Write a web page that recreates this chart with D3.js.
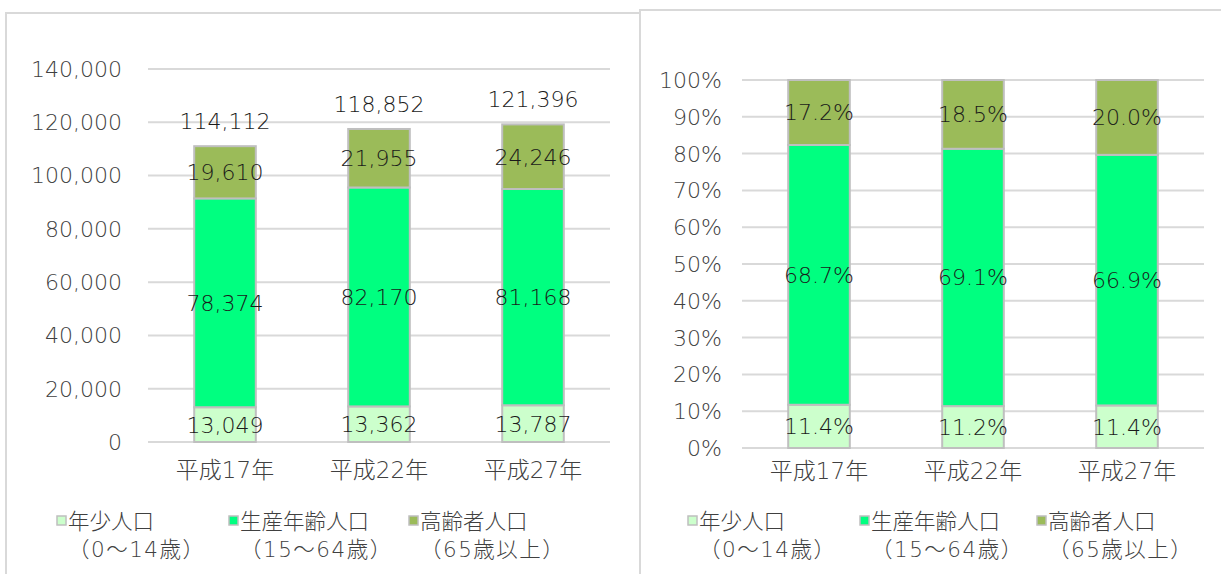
<!DOCTYPE html>
<html>
<head>
<meta charset="utf-8">
<script src="https://cdn.jsdelivr.net/npm/d3@7"></script>
<style>
  body { margin: 0; background: #fff; }
  svg text { font-family: "DejaVu Sans", "Noto Sans CJK JP", sans-serif; font-weight: 200; }
</style>
</head>
<body>
<div id="chart"></div>
<script>
// data
var categories = ["平成17年", "平成22年", "平成27年"];
var youth   = [13049, 13362, 13787];
var working = [78374, 82170, 81168];
var elderly = [19610, 21955, 24246];
var totals  = [114112, 118852, 121396];
var youthPct   = [11.4, 11.2, 11.4];
var workingPct = [68.7, 69.1, 66.9];
var elderlyPct = [17.2, 18.5, 20.0];
var countTicks = [0, 20000, 40000, 60000, 80000, 100000, 120000, 140000];
var pctTicks = [0, 0.1, 0.2, 0.3, 0.4, 0.5, 0.6, 0.7, 0.8, 0.9, 1];
var legendNames = ["年少人口", "生産年齢人口", "高齢者人口"];
var legendAges  = ["（0～14歳）", "（15～64歳）", "（65歳以上）"];
var colors = ["#ccffcc", "#00ff80", "#9bbb59"];
var keys = ["youth", "working", "elderly"];

var rows = categories.map(function(c, i) {
  return { cat: c, youth: youth[i], working: working[i], elderly: elderly[i],
           total: totals[i], pct: [youthPct[i], workingPct[i], elderlyPct[i]] };
});

var svg = d3.select("#chart").append("svg")
  .attr("width", 1221).attr("height", 574);

// panel frames
svg.append("rect").attr("x", 6).attr("y", 13).attr("width", 634).attr("height", 600)
  .attr("fill", "none").attr("stroke", "#d9d9d9").attr("stroke-width", 2);
svg.append("rect").attr("x", 640).attr("y", 10).attr("width", 620).attr("height", 600)
  .attr("fill", "none").attr("stroke", "#d9d9d9").attr("stroke-width", 2);

function drawPanel(opt) {
  var g = svg.append("g");
  var x = d3.scaleBand().domain(categories).range(opt.xRange)
    .paddingInner(0.6).paddingOuter(0.3);
  var y = d3.scaleLinear().domain(opt.yDomain).range(opt.yRange);

  // gridlines
  g.selectAll(".grid").data(opt.ticks).enter().append("line")
    .attr("x1", opt.xRange[0]).attr("x2", opt.xRange[1])
    .attr("y1", function(d) { return y(d); }).attr("y2", function(d) { return y(d); })
    .attr("stroke", "#d9d9d9").attr("stroke-width", 2);

  // y tick labels
  g.selectAll(".ytl").data(opt.ticks).enter().append("text")
    .attr("x", opt.labelX).attr("y", function(d) { return y(d); })
    .attr("dy", "0.36em").attr("text-anchor", "end")
    .attr("fill", "#404040").style("font-size", "22px")
    .text(opt.tickFormat);

  var stack = d3.stack().keys(keys);
  if (opt.expand) stack.offset(d3.stackOffsetExpand);
  var series = stack(rows);

  series.forEach(function(s, si) {
    g.selectAll(".seg" + si).data(s).enter().append("rect")
      .attr("x", function(d) { return x(d.data.cat); })
      .attr("width", x.bandwidth())
      .attr("y", function(d) { return y(d[1]); })
      .attr("height", function(d) { return y(d[0]) - y(d[1]); })
      .attr("fill", colors[si])
      .attr("stroke", "#bfbfbf").attr("stroke-width", 2);
  });

  series.forEach(function(s, si) {
    g.selectAll(".lab" + si).data(s).enter().append("text")
      .attr("x", function(d) { return x(d.data.cat) + x.bandwidth() / 2; })
      .attr("y", function(d) { return (y(d[0]) + y(d[1])) / 2; })
      .attr("dy", "0.36em").attr("text-anchor", "middle")
      .attr("fill", "#1a1a1a").style("font-size", "22px")
      .text(function(d, i) { return opt.segLabel(d, si, i); });
  });

  if (opt.totals) {
    g.selectAll(".tot").data(series[2]).enter().append("text")
      .attr("x", function(d) { return x(d.data.cat) + x.bandwidth() / 2; })
      .attr("y", function(d) { return y(d[1]) - 25; })
      .attr("dy", "0.36em").attr("text-anchor", "middle")
      .attr("fill", "#1a1a1a").style("font-size", "22px")
      .text(function(d) { return d3.format(",")(d.data.total); });
  }

  // category labels
  g.selectAll(".cat").data(categories).enter().append("text")
    .attr("x", function(d) { return x(d) + x.bandwidth() / 2; })
    .attr("y", opt.catY).attr("dy", "0.36em").attr("text-anchor", "middle")
    .attr("fill", "#404040").style("font-size", "23px")
    .text(function(d) { return d; });

  // legend
  legendNames.forEach(function(n, i) {
    var lx = opt.legendX[i];
    g.append("rect").attr("x", lx).attr("y", 516).attr("width", 9).attr("height", 9)
      .attr("fill", colors[i]).attr("stroke", "#bfbfbf").attr("stroke-width", 1.5);
    g.append("text").attr("x", lx + 11).attr("y", 521).attr("dy", "0.36em")
      .attr("fill", "#404040").style("font-size", "21.5px").text(n);
    g.append("text").attr("x", lx + 11).attr("y", 549).attr("dy", "0.36em")
      .attr("fill", "#404040").style("font-size", "21.5px")
      .style("letter-spacing", "1.5px").text(legendAges[i]);
  });
}

drawPanel({
  xRange: [148, 610], yDomain: [0, 140000], yRange: [442, 69],
  ticks: countTicks, labelX: 122, tickFormat: d3.format(","),
  segLabel: function(d, si) { return d3.format(",")(d[1] - d[0]); },
  totals: true, catY: 470, legendX: [57, 229, 409]
});

drawPanel({
  xRange: [742, 1204], yDomain: [0, 1], yRange: [448, 80],
  ticks: pctTicks, labelX: 722, tickFormat: d3.format(".0%"), expand: true,
  segLabel: function(d, si) { return d.data.pct[si].toFixed(1) + "%"; },
  totals: false, catY: 471, legendX: [688, 860, 1037]
});
</script>
</body>
</html>
